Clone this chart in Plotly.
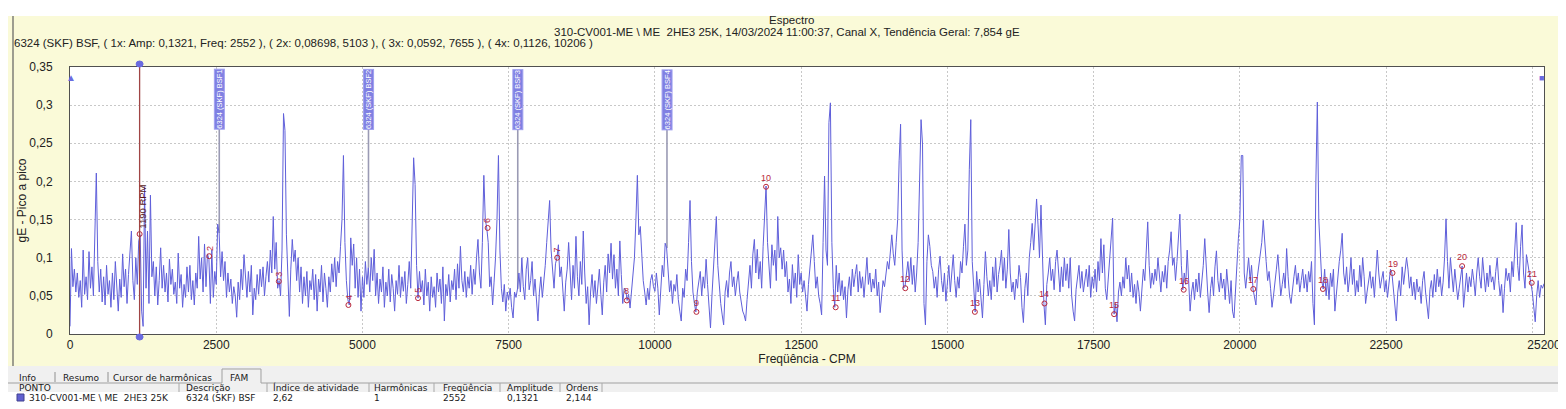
import numpy as np
import plotly.graph_objects as go

# spectrum amplitude in mgE, one value every 25 CPM
amp_00000 = [10, 112, 62, 85, 55, 80, 48, 70, 35, 110,
             52, 75, 45, 108, 60, 88, 50, 130, 211, 95,
             55, 85, 42, 75, 38, 90, 52, 70, 35, 80,
             45, 95, 58, 30, 72, 48, 105, 62, 85, 40,
             78, 110, 135, 70, 45, 100, 65, 122, 130, 30,
             10, 193, 60, 135, 40, 182, 75, 95, 50, 88,
             38, 70, 113, 60, 90, 55, 80, 42, 98, 65,
             85, 52, 68, 40, 106, 60, 78, 35, 65, 48,
             88, 55, 90, 45, 70, 38, 80, 60, 128, 72,
             100, 55, 118, 62, 105, 98, 40, 110, 48, 82]
amp_02500 = [65, 144, 132, 75, 108, 70, 95, 48, 80, 55,
             72, 40, 62, 50, 22, 68, 45, 85, 58, 104,
             70, 48, 82, 55, 90, 25, 60, 45, 78, 52,
             85, 62, 88, 50, 75, 95, 68, 110, 80, 154,
             85, 120, 60, 70, 50, 110, 289, 267, 130, 60,
             23, 85, 124, 95, 110, 70, 100, 55, 88, 40,
             75, 50, 82, 35, 70, 58, 85, 45, 78, 30,
             72, 55, 90, 42, 80, 60, 35, 75, 55, 92,
             68, 100, 62, 95, 80, 115, 150, 234, 120, 70,
             45, 38, 126, 90, 118, 60, 100, 48, 85, 30]
amp_05000 = [75, 48, 95, 65, 87, 55, 100, 70, 111, 50,
             80, 40, 72, 55, 88, 35, 68, 50, 85, 42,
             78, 60, 30, 70, 52, 90, 48, 75, 56, 82,
             40, 65, 95, 60, 150, 231, 196, 90, 47, 82,
             55, 70, 38, 85, 50, 68, 30, 75, 48, 62,
             35, 80, 55, 72, 40, 88, 17, 65, 50, 78,
             42, 70, 58, 85, 45, 92, 60, 115, 70, 55,
             82, 48, 75, 60, 90, 52, 85, 65, 100, 124,
             80, 60, 120, 208, 150, 139, 120, 62, 75, 38,
             68, 100, 150, 234, 110, 60, 42, 65, 30, 55]
amp_07500 = [45, 60, 35, 21, 55, 48, 59, 80, 55, 100,
             62, 45, 85, 100, 58, 70, 95, 50, 72, 40,
             17, 55, 75, 48, 65, 90, 120, 143, 175, 110,
             80, 60, 92, 100, 117, 75, 88, 55, 30, 68,
             85, 120, 70, 45, 90, 60, 128, 75, 50, 95,
             65, 135, 80, 40, 62, 12, 55, 78, 48, 70,
             40, 62, 85, 52, 25, 68, 90, 55, 105, 80,
             119, 72, 104, 60, 85, 50, 122, 78, 40, 60,
             58, 44, 52, 34, 58, 75, 100, 150, 208, 130,
             141, 105, 70, 55, 38, 60, 45, 70, 78, 62]
amp_10000 = [56, 80, 60, 25, 68, 90, 75, 119, 113, 82,
             55, 70, 40, 65, 56, 78, 45, 30, 17, 60,
             48, 85, 70, 120, 175, 95, 55, 40, 29, 55,
             70, 82, 50, 75, 60, 98, 65, 35, 8, 50,
             85, 110, 154, 90, 60, 40, 25, 12, 55, 70,
             48, 80, 95, 62, 75, 50, 68, 82, 55, 40,
             30, 25, 17, 45, 70, 90, 60, 105, 124, 80,
             111, 72, 95, 60, 115, 152, 194, 120, 85, 60,
             117, 90, 110, 70, 154, 100, 113, 85, 110, 75,
             95, 55, 72, 40, 91, 60, 80, 48, 104, 65]
amp_12500 = [80, 55, 70, 45, 30, 65, 85, 100, 130, 95,
             60, 75, 50, 40, 25, 120, 207, 110, 90, 277,
             303, 120, 60, 35, 90, 55, 80, 50, 70, 45,
             62, 21, 58, 75, 50, 85, 62, 78, 91, 55,
             82, 60, 75, 48, 70, 100, 65, 80, 55, 72,
             60, 85, 50, 68, 28, 55, 70, 62, 78, 95,
             85, 110, 130, 105, 90, 120, 150, 227, 275, 110,
             60, 62, 78, 95, 70, 100, 65, 90, 55, 80,
             120, 200, 281, 249, 40, 12, 95, 130, 115, 90,
             82, 60, 75, 48, 85, 102, 70, 55, 80, 43]
amp_15000 = [62, 90, 55, 85, 104, 70, 48, 75, 60, 95,
             80, 115, 144, 90, 110, 216, 281, 95, 55, 29,
             82, 55, 72, 40, 21, 65, 108, 75, 50, 70,
             45, 88, 62, 100, 55, 78, 90, 110, 70, 100,
             60, 85, 137, 80, 55, 68, 45, 72, 60, 90,
             74, 35, 15, 60, 80, 50, 100, 120, 145, 110,
             140, 177, 143, 100, 169, 95, 40, 12, 65, 80,
             100, 70, 85, 58, 95, 110, 75, 55, 88, 62,
             100, 70, 92, 60, 100, 50, 30, 17, 58, 75,
             90, 60, 82, 55, 70, 85, 62, 90, 48, 75]
amp_17500 = [60, 85, 55, 95, 70, 125, 80, 117, 60, 45,
             72, 95, 120, 152, 26, 40, 16, 55, 68, 50,
             75, 60, 100, 72, 90, 55, 80, 48, 65, 40,
             70, 55, 30, 62, 85, 70, 110, 147, 90, 60,
             80, 65, 85, 70, 100, 75, 55, 82, 68, 90,
             60, 95, 110, 134, 90, 100, 70, 95, 130, 157,
             90, 58, 80, 65, 110, 70, 30, 55, 68, 45,
             72, 55, 80, 48, 70, 90, 125, 85, 55, 28,
             60, 75, 50, 88, 109, 70, 55, 80, 60, 72,
             45, 85, 60, 40, 70, 30, 21, 60, 100, 125]
amp_20000 = [150, 234, 234, 80, 60, 85, 100, 70, 90, 59,
             45, 38, 75, 90, 110, 120, 149, 114, 95, 70,
             82, 60, 35, 50, 72, 85, 104, 70, 50, 65,
             80, 60, 112, 75, 50, 40, 62, 75, 90, 65,
             80, 55, 70, 85, 60, 78, 55, 82, 68, 95,
             40, 12, 200, 304, 150, 100, 70, 59, 85, 50,
             72, 45, 80, 62, 85, 30, 55, 70, 95, 110,
             132, 80, 65, 88, 55, 72, 100, 65, 85, 50,
             70, 55, 90, 62, 100, 75, 40, 55, 68, 82,
             60, 75, 48, 85, 110, 80, 60, 72, 82, 55]
amp_22500 = [70, 48, 65, 85, 80, 60, 40, 17, 55, 70,
             50, 88, 65, 80, 100, 85, 60, 75, 50, 68,
             45, 72, 55, 62, 40, 70, 82, 55, 40, 20,
             58, 70, 48, 78, 55, 85, 62, 75, 50, 68,
             100, 151, 95, 60, 100, 70, 55, 85, 60, 45,
             60, 72, 89, 35, 65, 80, 55, 75, 62, 85,
             70, 50, 80, 100, 75, 60, 100, 70, 55, 80,
             62, 90, 68, 75, 58, 82, 100, 70, 50, 65,
             28, 60, 86, 70, 80, 55, 95, 75, 110, 146,
             90, 70, 115, 143, 80, 60, 104, 90, 75, 67]
amp_25000 = [55, 30, 16, 50, 70, 48, 64, 60, 66]

step_cpm = 25

# harmonic cursor (1190 RPM) markers
harm_order = list(range(1, 22))
harm_amp = [0.131, 0.102, 0.069, 0.038, 0.047, 0.139, 0.100, 0.044, 0.029, 0.193, 0.035,
            0.060, 0.029, 0.040, 0.026, 0.058, 0.059, 0.059, 0.080, 0.089, 0.067]
run_speed = 1190

# bearing fault frequency markers
bsf_freq = [2552, 5103, 7655, 10206]
bsf_amp = [0.1321, 0.08698, 0.0592, 0.1126]
bsf_text = ["6324 (SKF) BSF1", "6324 (SKF) BSF2", "6324 (SKF) BSF3", "6324 (SKF) BSF4"]

x_ticks = [0, 2500, 5000, 7500, 10000, 12500, 15000, 17500, 20000, 22500, 25000, 25200]
x_labels = ["0", "2500", "5000", "7500", "10000", "12500", "15000", "17500", "20000", "22500", "", "25200"]
y_ticks = [0, 0.05, 0.1, 0.15, 0.2, 0.25, 0.3, 0.35]
y_labels = ["0", "0,05", "0,1", "0,15", "0,2", "0,25", "0,3", "0,35"]

table_cols = ["PONTO", "Descrição", "Índice de atividade", "Harmônicas", "Freqüência", "Amplitude", "Ordens"]
table_row = ["310-CV001-ME \\ ME  2HE3 25K", "6324 (SKF) BSF", "2,62", "1", "2552", "0,1321", "2,144"]
tabs = ["Info", "Resumo", "Cursor de harmônicas", "FAM"]

amp = np.array(amp_00000 + amp_02500 + amp_05000 + amp_07500 + amp_10000 + amp_12500
               + amp_15000 + amp_17500 + amp_20000 + amp_22500 + amp_25000) / 1000
freq = np.arange(len(amp)) * step_cpm
harm_freq = [n * run_speed for n in harm_order]

W, H = 1566, 409
L, R, T, B = 62, 1536, 59, 326
FONT = "Liberation Sans"
BLUE = "#5F5FDA"
MARK = "#6B6BE0"
RED = "#B8283C"


def px(p):
    return (p - L) / (R - L)


def py(p):
    return (B - p) / (B - T)


fig = go.Figure()

for f, a in zip(bsf_freq, bsf_amp):
    fig.add_trace(go.Scatter(x=[f, f], y=[a, 0.272], mode="lines",
                             line=dict(color="#9A9AB4", width=1.6), hoverinfo="skip"))

fig.add_trace(go.Scatter(x=freq, y=amp, mode="lines", line=dict(color=BLUE, width=1)))

fig.add_trace(go.Scatter(x=harm_freq, y=harm_amp, mode="markers",
                         marker=dict(symbol="circle-open", size=5, color=RED, line=dict(width=1))))

shapes = []
# page pieces
shapes.append(dict(type="rect", xref="paper", yref="paper", x0=px(-2), x1=px(W + 2), y0=py(8), y1=py(-2),
                   fillcolor="white", line_width=0, layer="below"))
shapes.append(dict(type="rect", xref="paper", yref="paper", x0=px(1554), x1=px(W + 2), y0=py(H + 2), y1=py(-2),
                   fillcolor="white", line_width=0, layer="below"))
shapes.append(dict(type="rect", xref="paper", yref="paper", x0=px(-2), x1=px(1554), y0=py(384), y1=py(358),
                   fillcolor="#F0F0F0", line_width=0, layer="below"))
shapes.append(dict(type="rect", xref="paper", yref="paper", x0=px(-2), x1=px(1554), y0=py(H + 2), y1=py(384),
                   fillcolor="white", line_width=0, layer="below"))
shapes.append(dict(type="line", xref="paper", yref="paper", x0=px(5), x1=px(5), y0=py(358), y1=py(8),
                   line=dict(color="#606060", width=1.2)))
# tabs
shapes.append(dict(type="line", xref="paper", yref="paper", x0=px(0), x1=px(214), y0=py(375), y1=py(375),
                   line=dict(color="#A0A0A0", width=1)))
shapes.append(dict(type="line", xref="paper", yref="paper", x0=px(253), x1=px(1554), y0=py(375), y1=py(375),
                   line=dict(color="#A0A0A0", width=1)))
for xs in [47, 100]:
    shapes.append(dict(type="line", xref="paper", yref="paper", x0=px(xs), x1=px(xs), y0=py(374), y1=py(364),
                       line=dict(color="#909090", width=1)))
shapes.append(dict(type="path", xref="paper", yref="paper",
                   path="M %f,%f L %f,%f L %f,%f L %f,%f" % (px(214), py(375), px(214), py(361),
                                                             px(253), py(361), px(253), py(375)),
                   line=dict(color="#A0A0A0", width=1)))
for xs in [171, 259, 361, 426, 492, 552, 594]:
    shapes.append(dict(type="line", xref="paper", yref="paper", x0=px(xs), x1=px(xs), y0=py(384), y1=py(375),
                       line=dict(color="#A8A8A8", width=1)))
# row marker square
shapes.append(dict(type="rect", xref="paper", yref="paper", x0=px(9), x1=px(16), y0=py(393), y1=py(386),
                   fillcolor="#6060D0", line=dict(color="#404090", width=1)))
# cursor line with its two handles
shapes.append(dict(type="line", x0=run_speed, x1=run_speed, yref="paper", y0=py(329), y1=py(56),
                   line=dict(color="#A04545", width=1.3)))
for yy in [56, 329]:
    shapes.append(dict(type="circle", xref="paper", yref="paper",
                       x0=px(L + (R - L) * run_speed / 25200 - 3.5), x1=px(L + (R - L) * run_speed / 25200 + 3.5),
                       y0=py(yy + 3), y1=py(yy - 3), fillcolor=MARK, line=dict(color=MARK, width=1)))

ann = []
ann.append(dict(text="Espectro", xref="paper", yref="paper", x=px(783), y=py(12.5),
                showarrow=False, xanchor="center", yanchor="middle", font=dict(size=11.5)))
ann.append(dict(text="310-CV001-ME \\ ME  2HE3 25K, 14/03/2024 11:00:37, Canal X, Tendência Geral: 7,854 gE",
                xref="paper", yref="paper", x=px(779), y=py(23.5),
                showarrow=False, xanchor="center", yanchor="middle", font=dict(size=11.5)))
ann.append(dict(text="6324 (SKF) BSF, ( 1x: Amp: 0,1321, Freq: 2552 ), ( 2x: 0,08698, 5103 ), "
                     "( 3x: 0,0592, 7655 ), ( 4x: 0,1126, 10206 )",
                xref="paper", yref="paper", x=px(4), y=py(34.5),
                showarrow=False, xanchor="left", yanchor="middle", font=dict(size=11.5)))
ann.append(dict(text="▲", xref="paper", yref="paper", x=px(56), y=py(62), showarrow=False,
                font=dict(size=10, color=MARK)))
ann.append(dict(text="■", xref="paper", yref="paper", x=px(1538), y=py(63), showarrow=False,
                font=dict(size=9, color=MARK)))

for f, t in zip(bsf_freq, bsf_text):
    ann.append(dict(text=t, x=f, y=0.3475, xanchor="center", yanchor="top", showarrow=False,
                    textangle=-90, bgcolor="#8080E2", bordercolor="#A0A0F0", borderwidth=1, borderpad=0,
                    font=dict(size=7.5, color="white")))

ann.append(dict(text="%d RPM" % run_speed, x=run_speed, y=harm_amp[0], yanchor="bottom",
                xanchor="center", showarrow=False, textangle=-90, xshift=2, yshift=3,
                font=dict(size=9.5, color="#5A1A1A")))
for n, f, a in zip(harm_order[1:], harm_freq[1:], harm_amp[1:]):
    if n <= 7:
        ann.append(dict(text=str(n), x=f, y=a, yanchor="bottom", xanchor="center", showarrow=False,
                        textangle=-90, yshift=3, font=dict(size=9, color=RED)))
    else:
        ann.append(dict(text=str(n), x=f, y=a, yanchor="bottom", xanchor="center", showarrow=False,
                        yshift=2, font=dict(size=9, color=RED)))

# table
tab_x = [9, 53, 103, 220]
for t, xs in zip(tabs, tab_x):
    ann.append(dict(text=t, xref="paper", yref="paper", x=px(xs), y=py(369.5), showarrow=False,
                    xanchor="left", yanchor="middle", font=dict(size=9, family="DejaVu Sans", color="#202020")))
col_x = [9, 176, 263, 364, 433, 497, 556]
for t, xs in zip(table_cols, col_x):
    ann.append(dict(text=t, xref="paper", yref="paper", x=px(xs), y=py(379.5), showarrow=False,
                    xanchor="left", yanchor="middle", font=dict(size=9, family="DejaVu Sans", color="#202020")))
row_x = [19, 176, 263, 364, 433, 497, 556]
for t, xs in zip(table_row, row_x):
    ann.append(dict(text=t, xref="paper", yref="paper", x=px(xs), y=py(389.5), showarrow=False,
                    xanchor="left", yanchor="middle", font=dict(size=9, family="DejaVu Sans", color="#202020")))

fig.update_layout(
    width=W, height=H,
    margin=dict(l=L, r=W - R, t=T, b=H - B),
    paper_bgcolor="#FAFAD8", plot_bgcolor="white",
    font=dict(family=FONT, size=12, color="#222222"),
    showlegend=False,
    shapes=shapes, annotations=ann,
    xaxis=dict(range=[0, 25200], tickvals=x_ticks, ticktext=x_labels,
               showgrid=True, gridcolor="#C8C8C8", griddash="2px,2px", gridwidth=1,
               zeroline=False, showline=True, linecolor="#505050", linewidth=1, mirror=True,
               ticks="", tickfont=dict(size=12),
               title=dict(text="Freqüência - CPM", font=dict(size=12), standoff=2)),
    yaxis=dict(range=[0, 0.35], tickvals=y_ticks, ticktext=y_labels,
               showgrid=True, gridcolor="#C8C8C8", griddash="2px,2px", gridwidth=1,
               zeroline=False, showline=True, linecolor="#505050", linewidth=1, mirror=True,
               ticks="", tickfont=dict(size=12), ticklabelstandoff=14,
               title=dict(text="gE - Pico a pico", font=dict(size=12), standoff=0)),
)

fig.write_html("out.html")
